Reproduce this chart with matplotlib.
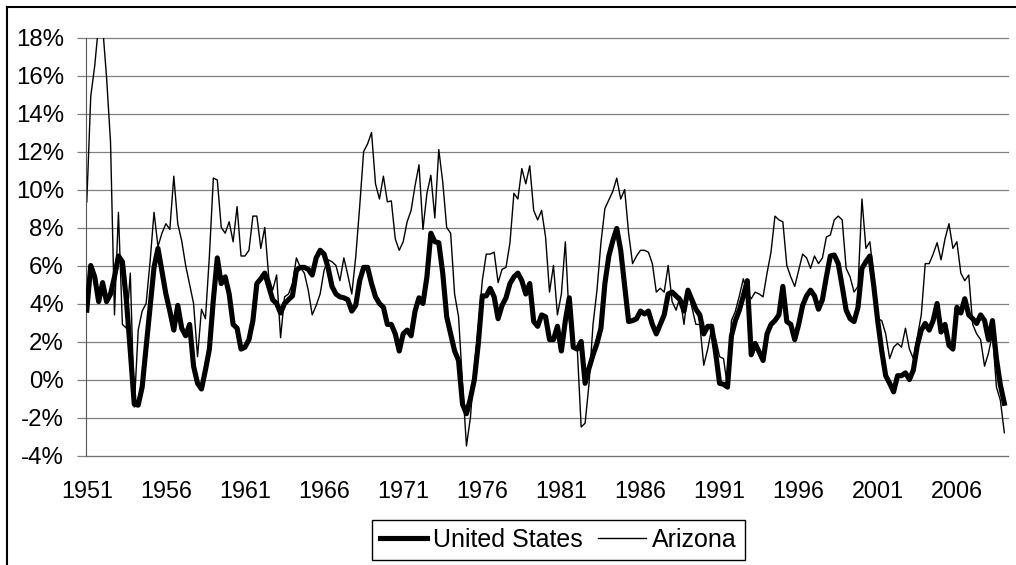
import numpy as np
import matplotlib
matplotlib.use('Agg')
import matplotlib.pyplot as plt
from matplotlib.lines import Line2D

plt.rcParams['font.family'] = ['Liberation Sans', 'DejaVu Sans']

# quarterly growth rates, % (1951Q1 .. 2009Q1)
us_growth = [
    3.65, 6.0, 5.4, 4.1, 5.1, 4.1, 4.5, 5.4, 6.5, 6.2, 4.2, 1.5, -1.3, -1.35, -0.4, 1.7,
    3.8, 5.9, 6.9, 5.7, 4.5, 3.6, 2.6, 3.9, 2.7, 2.3, 2.9, 0.7, -0.2, -0.5, 0.5, 1.6,
    4.2, 6.4, 5.05, 5.4, 4.5, 2.9, 2.7, 1.6, 1.7, 2.1, 3.1, 5.05,
    5.3, 5.6, 4.9, 4.2, 4.0, 3.5, 4.0, 4.2, 4.4, 5.75, 5.9, 5.9, 5.8, 5.5, 6.4, 6.8,
    6.6, 5.9, 4.9, 4.5, 4.35, 4.3, 4.2, 3.6, 3.9, 5.2, 5.9, 5.9, 5.05, 4.35, 4.0, 3.8,
    2.9, 2.9, 2.4, 1.5, 2.4, 2.6, 2.3, 3.6, 4.3, 4.0, 5.4, 7.7, 7.25, 7.2, 5.6, 3.3,
    2.4, 1.5, 1.0, -1.3, -1.8, -1.0, 0.0, 1.9, 4.4, 4.4, 4.8, 4.35, 3.2, 3.9, 4.3, 5.05,
    5.4, 5.6, 5.2, 4.5, 5.05, 3.05, 2.8, 3.4, 3.3, 2.1, 2.1, 2.8, 1.5, 3.1, 4.3, 1.7,
    1.6, 2.0, -0.2, 0.6, 1.3, 1.9, 2.7, 5.05, 6.5, 7.3, 7.95, 6.8, 4.95, 3.05, 3.1, 3.2,
    3.6, 3.45, 3.6, 2.9, 2.4, 2.9, 3.4, 4.5, 4.6, 4.4, 4.2, 3.6, 4.7, 4.2, 3.7, 3.4,
    2.4, 2.8, 2.8, 1.4, -0.2, -0.25, -0.4, 2.3, 3.1, 3.65, 4.4, 5.2, 1.3, 1.9, 1.45, 1.0,
    2.4, 2.9, 3.1, 3.4, 4.9, 3.05, 2.9, 2.1, 2.9, 3.9, 4.4, 4.7, 4.4, 3.7, 4.2, 5.4,
    6.5, 6.55, 6.1, 4.9, 3.65, 3.2, 3.05, 3.8, 5.85, 6.2, 6.5, 4.9, 3.05, 1.5, 0.2, -0.2,
    -0.65, 0.2, 0.2, 0.35, 0.0, 0.5, 1.8, 2.6, 2.95, 2.6, 3.1, 4.0, 2.5, 2.9, 1.8, 1.6,
    3.8, 3.5, 4.25, 3.4, 3.2, 2.95, 3.4, 3.1, 2.1, 3.1, 1.1, -0.3, -1.25,
]
az_growth = [
    9.35, 14.9, 16.5, 18.7, 18.6, 15.9, 12.5, 3.4, 8.8, 2.9, 2.7, 5.6, -1.45, 2.6, 3.6, 4.0,
    6.2, 8.8, 7.0, 7.7, 8.2, 7.9, 10.7, 8.2, 7.3, 6.0, 5.0, 4.0, 1.2, 3.7, 3.2, 6.5,
    10.6, 10.5, 8.0, 7.7, 8.3, 7.25, 9.1, 6.5, 6.5, 6.8, 8.6, 8.6,
    6.9, 8.0, 5.4, 4.7, 5.5, 2.2, 4.35, 4.5, 5.05, 6.4, 5.9, 5.6, 4.7, 3.4, 3.9, 4.5,
    5.75, 6.3, 6.2, 6.0, 5.2, 6.4, 5.5, 4.5, 6.45, 9.1, 12.0, 12.4, 13.0, 10.3, 9.5, 10.7,
    9.35, 9.4, 7.4, 6.8, 7.25, 8.3, 8.9, 10.2, 11.3, 7.9, 9.8, 10.75, 8.5, 12.1, 10.4, 8.0,
    7.7, 4.5, 3.3, -0.2, -3.5, -2.0, 0.7, 2.8, 5.2, 6.6, 6.6, 6.7, 5.1, 5.8, 5.9, 7.2,
    9.8, 9.5, 11.1, 10.3, 11.25, 8.9, 8.4, 8.9, 7.5, 4.6, 6.0, 3.4, 4.5, 7.25, 3.1, 1.6,
    1.7, -2.5, -2.3, -0.2, 2.9, 4.7, 7.2, 9.0, 9.45, 9.9, 10.6, 9.5, 10.0, 7.7, 6.1, 6.5,
    6.8, 6.8, 6.7, 6.1, 4.6, 4.8, 4.6, 6.0, 4.1, 3.65, 4.35, 2.9, 4.7, 3.8, 2.9, 2.9,
    0.75, 1.6, 2.7, 2.15, 1.2, 1.1, -0.4, 3.1, 3.6, 4.4, 5.3, 4.5, 4.25, 4.6, 4.5, 4.35,
    5.6, 6.7, 8.6, 8.4, 8.3, 6.0, 5.4, 4.9, 5.75, 6.6, 6.4, 5.85, 6.5, 6.1, 6.4, 7.5,
    7.6, 8.4, 8.6, 8.4, 5.85, 5.4, 4.6, 4.9, 9.5, 6.9, 7.25, 5.4, 3.2, 3.1, 2.4, 1.1,
    1.7, 1.9, 1.7, 2.7, 1.6, 1.1, 2.25, 3.4, 6.1, 6.1, 6.6, 7.2, 6.3, 7.4, 8.2, 6.9,
    7.25, 5.6, 5.2, 5.5, 2.9, 2.4, 2.1, 0.7, 1.4, 2.4, -0.4, -1.1, -2.8,
]
year_labels = ['1951', '1956', '1961', '1966', '1971', '1976', '1981',
               '1986', '1991', '1996', '2001', '2006']
y_ticks = list(range(-4, 19, 2))

W, H = 1016, 565
fig = plt.figure(figsize=(W / 100, H / 100), dpi=100)
ax = fig.add_axes([86 / W, 1 - 455.5 / H, (1007.5 - 86) / W, (455.5 - 37.5) / H])

x = np.arange(len(us_growth))
az_line, = ax.plot(x, az_growth, color='black', lw=1.0, zorder=2, label='Arizona')
us_line, = ax.plot(x, us_growth, color='black', lw=3.7, zorder=3,
                   solid_joinstyle='round', label='United States')

ax.set_ylim(-4, 18)
ax.set_xlim(-0.2, 232.8)
ax.set_yticks(y_ticks)
ax.set_yticklabels([f'{v}%' for v in y_ticks])
ax.set_xticks(np.arange(len(year_labels)) * 20)
ax.set_xticklabels(year_labels)

ax.yaxis.grid(True, color='#808080', lw=0.9)
for gl in ax.get_ygridlines():
    gl.set_clip_on(False)
ax.set_axisbelow(True)
for s in ['top', 'right']:
    ax.spines[s].set_visible(False)
ax.spines['left'].set_color('#555555')
ax.spines['bottom'].set_color('#707070')
ax.tick_params(axis='y', length=6.5, width=0.9, color='#808080', pad=9.5, labelsize=17.3)
ax.tick_params(axis='x', length=0, pad=17.5, labelsize=16.8)

leg = fig.legend(handles=[us_line, az_line], loc='center',
                 bbox_to_anchor=(558 / W, 1 - 540 / H), ncol=2, frameon=True,
                 fancybox=False, edgecolor='black', framealpha=1, fontsize=18,
                 handlelength=1.9, handletextpad=0.24, columnspacing=0.6, borderpad=0.33)
leg.get_frame().set_linewidth(1.0)

# outer frame of the chart (left and top edges visible)
fig.add_artist(Line2D([7 / W, 7 / W], [0, 1 - 7 / H], transform=fig.transFigure,
                      color='black', lw=1.5))
fig.add_artist(Line2D([7 / W, 1], [1 - 7 / H, 1 - 7 / H], transform=fig.transFigure,
                      color='black', lw=1.5))

fig.savefig('out.png', dpi=100)
